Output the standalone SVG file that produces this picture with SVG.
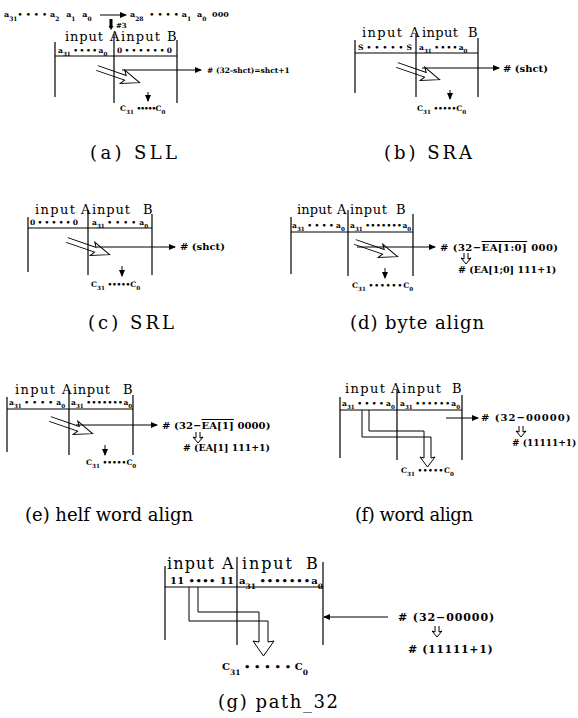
<svg xmlns="http://www.w3.org/2000/svg" width="578" height="718" viewBox="0 0 578 718">
<style>
text{font-family:"DejaVu Serif","Liberation Serif",serif;fill:#000}
.t{font-size:13px}
.tg{font-size:16px}
.r{font-size:7.5px;font-weight:bold}
.rg{font-size:10px;font-weight:bold}
.l{font-size:10px;font-weight:bold}
.lg{font-size:11px;font-weight:bold}
.cap{font-size:18px}
.s{font-size:75%;baseline-shift:sub;letter-spacing:0}
.ln{stroke:#000;stroke-width:1.2;fill:none}
.ar{stroke:#000;stroke-width:1;fill:none}
.ov{text-decoration:overline}
</style>
<defs>
<marker id="ah" markerWidth="7" markerHeight="6" refX="6" refY="3" orient="auto" markerUnits="userSpaceOnUse"><path d="M0,0 L7,3 L0,6 z"/></marker>
<path id="ha" d="M0,-2.5 H30 L27,-7 L45,0 L27,7 L30,2.5 H0" class="ar"/>
<path id="da" d="M-2,0 V6 L-5,5 L0,11 L5,5 L2,6 V0" class="ar"/>
</defs>
<rect width="578" height="718" fill="#fff"/>

<!-- (a) SLL -->
<g id="sll">
<text class="r" x="4" y="17" style="font-size:8px;word-spacing:4px">a<tspan class="s">31</tspan><tspan style="letter-spacing:3px">••••</tspan>a<tspan class="s">2</tspan> a<tspan class="s">1</tspan> a<tspan class="s">0</tspan></text>
<text class="r" x="130" y="17" style="font-size:8px;word-spacing:3px">a<tspan class="s">28</tspan> <tspan style="letter-spacing:3px">••••</tspan>a<tspan class="s">1</tspan> a<tspan class="s">0</tspan> 000</text>
<path d="M109.5,19 h3 v7 h1 l-2.5,4 l-2.5,-4 h1 z"/>
<text class="r" x="116" y="28" style="font-size:7px">#3</text>
<text class="t" x="65" y="41" textLength="38" lengthAdjust="spacing">input</text>
<text class="t" x="110" y="41">A</text>
<text class="t" x="121" y="41" textLength="39" lengthAdjust="spacing">input</text>
<text class="t" x="167" y="41">B</text>
<path class="ln" d="M55,42 V97 M114,34 V103 M177,40 V103 M55,56 H177"/>
<text class="r" x="58" y="53">a<tspan class="s">31</tspan> <tspan style="letter-spacing:1.5px">••••</tspan>a<tspan class="s">0</tspan></text>
<text class="r" x="117" y="53" textLength="55" lengthAdjust="spacing">0••••••0</text>
<text class="l" x="207" y="73" style="font-size:7.5px"># (32-shct)=shct+1</text>
<text class="r" x="120" y="111">C<tspan class="s">31</tspan> <tspan style="letter-spacing:-1px">•••••</tspan>C<tspan class="s">0</tspan></text>
<text class="cap" x="90" y="159" textLength="87" lengthAdjust="spacing">(a)  SLL</text>
</g>

<!-- (b) SRA -->
<g id="sra">
<text class="t" x="362" y="37" textLength="40" lengthAdjust="spacing">input</text>
<text class="t" x="410" y="37">A</text>
<text class="t" x="422" y="37" textLength="36" lengthAdjust="spacing">input</text>
<text class="t" x="468" y="37">B</text>
<path class="ln" d="M355,40 V93 M416,34 V97 M478,38 V97 M355,53 H478"/>
<text class="r" x="358" y="50" textLength="54" lengthAdjust="spacing">S•••••S</text>
<text class="r" x="419" y="50">a<tspan class="s">31</tspan> <tspan style="letter-spacing:1.3px">••••</tspan>a<tspan class="s">0</tspan></text>
<text class="l" x="503" y="72">#  (shct)</text>
<text class="r" x="417" y="111">C<tspan class="s">31</tspan> <tspan style="letter-spacing:-0.25px">•••••</tspan>C<tspan class="s">0</tspan></text>
<text class="cap" x="384" y="159" textLength="88" lengthAdjust="spacing">(b)  SRA</text>
</g>

<!-- (c) SRL -->
<g id="srl">
<text class="t" x="35" y="214" textLength="40" lengthAdjust="spacing">input</text>
<text class="t" x="81" y="214">A</text>
<text class="t" x="92" y="214" textLength="38" lengthAdjust="spacing">input</text>
<text class="t" x="143" y="214">B</text>
<path class="ln" d="M28,217 V272 M88,210 V275 M152,214 V275 M28,228 H152"/>
<text class="r" x="30" y="225" textLength="48" lengthAdjust="spacing">0•••••0</text>
<text class="r" x="92" y="225">a<tspan class="s">31</tspan> <tspan style="letter-spacing:3.2px">••••</tspan>a<tspan class="s">0</tspan></text>
<text class="l" x="180" y="250"># (shct)</text>
<text class="r" x="91" y="287">C<tspan class="s">31</tspan> <tspan style="letter-spacing:-0.25px">•••••</tspan>C<tspan class="s">0</tspan></text>
<text class="cap" x="88" y="329" textLength="86" lengthAdjust="spacing">(c)  SRL</text>
</g>

<!-- (d) byte align -->
<g id="byte-align">
<text class="t" x="297" y="214" textLength="35" lengthAdjust="spacing">input</text>
<text class="t" x="337" y="214">A</text>
<text class="t" x="350" y="214" textLength="37" lengthAdjust="spacing">input</text>
<text class="t" x="396" y="214">B</text>
<path class="ln" d="M291,217 V274 M348,210 V276 M413,214 V276 M291,232 H413"/>
<text class="r" x="292" y="228">a<tspan class="s">31</tspan> <tspan style="letter-spacing:2.4px">••••</tspan>a<tspan class="s">0</tspan></text>
<text class="r" x="350" y="228">a<tspan class="s">31</tspan> <tspan style="letter-spacing:0.5px">•••••••</tspan>a<tspan class="s">0</tspan></text>
<text class="l" x="440" y="251" style="letter-spacing:0.45px"># (32−<tspan class="ov">EA[1:0]</tspan>  000)</text>
<text class="l" x="458" y="273" style="font-size:9.5px"># (EA[1;0]  111+1)</text>
<text class="r" x="352" y="288">C<tspan class="s">31</tspan> <tspan style="letter-spacing:1px">••••••</tspan>C<tspan class="s">0</tspan></text>
<text class="cap" x="350" y="329" textLength="134" lengthAdjust="spacing">(d)  byte  align</text>
</g>

<!-- (e) half word align -->
<g id="half-word-align">
<text class="t" x="15" y="394" textLength="40" lengthAdjust="spacing">input</text>
<text class="t" x="62" y="394">A</text>
<text class="t" x="73" y="394" textLength="37" lengthAdjust="spacing">input</text>
<text class="t" x="123" y="394">B</text>
<path class="ln" d="M7,397 V452 M69,390 V455 M133,395 V455 M7,409 H133"/>
<text class="r" x="9" y="405">a<tspan class="s">31</tspan> <tspan style="letter-spacing:3.2px">••••</tspan>a<tspan class="s">0</tspan></text>
<text class="r" x="71" y="405">a<tspan class="s">31</tspan> <tspan style="letter-spacing:0.5px">•••••••</tspan>a<tspan class="s">0</tspan></text>
<text class="l" x="162" y="429" style="letter-spacing:0.1px"># (32−<tspan class="ov">EA[1]</tspan>  0000)</text>
<text class="l" x="183" y="451" style="font-size:9.4px"># (EA[1]  111+1)</text>
<text class="r" x="86" y="465">C<tspan class="s">31</tspan> •••••C<tspan class="s">0</tspan></text>
<text class="cap" x="25" y="521" textLength="168" lengthAdjust="spacing">(e) helf word align</text>
</g>

<!-- (f) word align -->
<g id="word-align">
<text class="t" x="345" y="393" textLength="40" lengthAdjust="spacing">input</text>
<text class="t" x="391" y="393">A</text>
<text class="t" x="402" y="393" textLength="39" lengthAdjust="spacing">input</text>
<text class="t" x="452" y="393">B</text>
<path class="ln" d="M340,397 V458 M397,390 V460 M462,395 V460 M340,410 H462"/>
<text class="r" x="342" y="406">a<tspan class="s">31</tspan> <tspan style="letter-spacing:2.4px">••••</tspan>a<tspan class="s">0</tspan></text>
<text class="r" x="400" y="406">a<tspan class="s">31</tspan> <tspan style="letter-spacing:1.2px">••••••</tspan>a<tspan class="s">0</tspan></text>
<text class="l" x="481" y="421" style="letter-spacing:1px"># (32−00000)</text>
<text class="l" x="512" y="446" style="font-size:9px"># (11111+1)</text>
<text class="r" x="401" y="473">C<tspan class="s">31</tspan> <tspan style="letter-spacing:0.5px">•••••</tspan>C<tspan class="s">0</tspan></text>
<text class="cap" x="355" y="521" textLength="118" lengthAdjust="spacing">(f) word align</text>
</g>

<!-- (g) path_32 -->
<g id="path-32">
<text class="tg" x="167" y="569" textLength="47" lengthAdjust="spacing">input</text>
<text class="tg" x="222" y="569">A</text>
<text class="tg" x="242" y="569" textLength="50" lengthAdjust="spacing">input</text>
<text class="tg" x="306" y="569">B</text>
<path class="ln" d="M165,566 V640 M237,557 V645 M323,562 V645 M165,587 H323"/>
<text class="rg" x="170" y="584" textLength="64" lengthAdjust="spacing">11 •••• 11</text>
<text class="rg" x="239" y="584">a<tspan class="s">31</tspan> <tspan style="letter-spacing:1px">•••••••</tspan>a<tspan class="s">0</tspan></text>
<text class="lg" x="398" y="621" style="letter-spacing:0.9px"># (32−00000)</text>
<text class="lg" x="408" y="653" style="letter-spacing:0.6px"># (11111+1)</text>
<text class="rg" x="222" y="670">C<tspan class="s">31</tspan> <tspan style="letter-spacing:3.8px">•••••</tspan>C<tspan class="s">0</tspan></text>
<text class="cap" x="218" y="708" textLength="120" lengthAdjust="spacing">(g)  path_32</text>
</g>

<!-- connectors -->
<g id="connectors">
<line class="ar" x1="100" y1="15" x2="126" y2="15" marker-end="url(#ah)"/>
<use href="#ha" transform="translate(97,68) rotate(19)"/>
<line class="ar" x1="122" y1="70" x2="201" y2="70" marker-end="url(#ah)"/>
<line class="ar" x1="148" y1="92" x2="148" y2="101" marker-end="url(#ah)"/>

<use href="#ha" transform="translate(397,65) rotate(19)"/>
<line class="ar" x1="422" y1="68" x2="499" y2="68" marker-end="url(#ah)"/>
<line class="ar" x1="450" y1="90" x2="450" y2="99" marker-end="url(#ah)"/>

<use href="#ha" transform="translate(67,240) rotate(19)"/>
<line class="ar" x1="97" y1="247" x2="175" y2="247" marker-end="url(#ah)"/>
<line class="ar" x1="122" y1="266" x2="122" y2="276" marker-end="url(#ah)"/>

<use href="#ha" transform="translate(355,242) rotate(19)"/>
<line class="ar" x1="357" y1="247" x2="435" y2="247" marker-end="url(#ah)"/>
<use href="#da" transform="translate(466,253)"/>
<line class="ar" x1="385" y1="268" x2="385" y2="278" marker-end="url(#ah)"/>

<use href="#ha" transform="translate(50,419) rotate(19)"/>
<line class="ar" x1="76" y1="425" x2="157" y2="425" marker-end="url(#ah)"/>
<use href="#da" transform="translate(198,432)"/>
<line class="ar" x1="105" y1="445" x2="105" y2="455" marker-end="url(#ah)"/>

<path class="ar" d="M362,410 V437 H431 V458 L435,457 L427.5,467 L420,457 L424,458 V431 H369 V410"/>
<line class="ar" x1="446" y1="418" x2="478" y2="418" marker-end="url(#ah)"/>
<use href="#da" transform="translate(521,426)"/>

<path class="ar" d="M189,587 V621 H268 V642 L274,641 L263.5,656 L253,641 L259,642 V612 H198 V587"/>
<line class="ar" x1="388" y1="617" x2="324" y2="617" marker-end="url(#ah)"/>
<use href="#da" transform="translate(437,626)"/>
</g>
</svg>
